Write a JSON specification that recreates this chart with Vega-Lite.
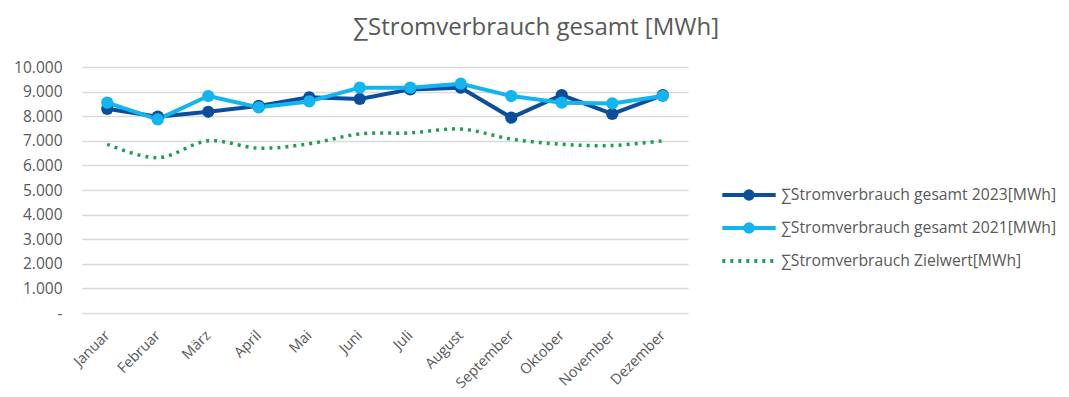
{
  "$schema": "https://vega.github.io/schema/vega-lite/v6.json",
  "width": 606,
  "height": 246,
  "autosize": {"type": "none"},
  "padding": {"left": 82, "top": 67, "right": 381, "bottom": 84},
  "background": "white",
  "title": {
    "text": "∑Stromverbrauch gesamt [MWh]",
    "anchor": "middle",
    "frame": "group",
    "dx": 151,
    "offset": 20,
    "font": "Open Sans",
    "fontSize": 24,
    "fontWeight": "normal",
    "color": "#595959"
  },
  "config": {
    "view": {"stroke": null},
    "font": "Open Sans"
  },
  "data": {
    "values": [
      {"monat": "Januar", "serie": "∑Stromverbrauch gesamt 2023[MWh]", "wert": 8300},
      {"monat": "Februar", "serie": "∑Stromverbrauch gesamt 2023[MWh]", "wert": 7980},
      {"monat": "März", "serie": "∑Stromverbrauch gesamt 2023[MWh]", "wert": 8180},
      {"monat": "April", "serie": "∑Stromverbrauch gesamt 2023[MWh]", "wert": 8420},
      {"monat": "Mai", "serie": "∑Stromverbrauch gesamt 2023[MWh]", "wert": 8770},
      {"monat": "Juni", "serie": "∑Stromverbrauch gesamt 2023[MWh]", "wert": 8700},
      {"monat": "Juli", "serie": "∑Stromverbrauch gesamt 2023[MWh]", "wert": 9090},
      {"monat": "August", "serie": "∑Stromverbrauch gesamt 2023[MWh]", "wert": 9160},
      {"monat": "September", "serie": "∑Stromverbrauch gesamt 2023[MWh]", "wert": 7940},
      {"monat": "Oktober", "serie": "∑Stromverbrauch gesamt 2023[MWh]", "wert": 8860},
      {"monat": "November", "serie": "∑Stromverbrauch gesamt 2023[MWh]", "wert": 8090},
      {"monat": "Dezember", "serie": "∑Stromverbrauch gesamt 2023[MWh]", "wert": 8860},
      {"monat": "Januar", "serie": "∑Stromverbrauch gesamt 2021[MWh]", "wert": 8550},
      {"monat": "Februar", "serie": "∑Stromverbrauch gesamt 2021[MWh]", "wert": 7870},
      {"monat": "März", "serie": "∑Stromverbrauch gesamt 2021[MWh]", "wert": 8820},
      {"monat": "April", "serie": "∑Stromverbrauch gesamt 2021[MWh]", "wert": 8360},
      {"monat": "Mai", "serie": "∑Stromverbrauch gesamt 2021[MWh]", "wert": 8600},
      {"monat": "Juni", "serie": "∑Stromverbrauch gesamt 2021[MWh]", "wert": 9160},
      {"monat": "Juli", "serie": "∑Stromverbrauch gesamt 2021[MWh]", "wert": 9160},
      {"monat": "August", "serie": "∑Stromverbrauch gesamt 2021[MWh]", "wert": 9320},
      {"monat": "September", "serie": "∑Stromverbrauch gesamt 2021[MWh]", "wert": 8820},
      {"monat": "Oktober", "serie": "∑Stromverbrauch gesamt 2021[MWh]", "wert": 8550},
      {"monat": "November", "serie": "∑Stromverbrauch gesamt 2021[MWh]", "wert": 8520},
      {"monat": "Dezember", "serie": "∑Stromverbrauch gesamt 2021[MWh]", "wert": 8820},
      {"monat": "Januar", "serie": "∑Stromverbrauch Zielwert[MWh]", "wert": 6860},
      {"monat": "Februar", "serie": "∑Stromverbrauch Zielwert[MWh]", "wert": 6310},
      {"monat": "März", "serie": "∑Stromverbrauch Zielwert[MWh]", "wert": 7000},
      {"monat": "April", "serie": "∑Stromverbrauch Zielwert[MWh]", "wert": 6700},
      {"monat": "Mai", "serie": "∑Stromverbrauch Zielwert[MWh]", "wert": 6880},
      {"monat": "Juni", "serie": "∑Stromverbrauch Zielwert[MWh]", "wert": 7280},
      {"monat": "Juli", "serie": "∑Stromverbrauch Zielwert[MWh]", "wert": 7320},
      {"monat": "August", "serie": "∑Stromverbrauch Zielwert[MWh]", "wert": 7480},
      {"monat": "September", "serie": "∑Stromverbrauch Zielwert[MWh]", "wert": 7070},
      {"monat": "Oktober", "serie": "∑Stromverbrauch Zielwert[MWh]", "wert": 6860},
      {"monat": "November", "serie": "∑Stromverbrauch Zielwert[MWh]", "wert": 6810},
      {"monat": "Dezember", "serie": "∑Stromverbrauch Zielwert[MWh]", "wert": 7000}
    ]
  },
  "encoding": {
    "x": {
      "field": "monat",
      "type": "ordinal",
      "sort": ["Januar", "Februar", "März", "April", "Mai", "Juni", "Juli", "August", "September", "Oktober", "November", "Dezember"],
      "scale": {"type": "point", "padding": 0.5},
      "axis": {
        "title": null,
        "domain": false,
        "ticks": false,
        "grid": false,
        "labelAngle": -45,
        "labelAlign": "right",
        "labelBaseline": "middle",
        "labelPadding": 20,
        "labelFont": "Open Sans",
        "labelFontSize": 14.5,
        "labelColor": "#595959"
      }
    },
    "y": {
      "field": "wert",
      "type": "quantitative",
      "scale": {"domain": [0, 10000], "nice": false},
      "axis": {
        "title": null,
        "values": [0, 1000, 2000, 3000, 4000, 5000, 6000, 7000, 8000, 9000, 10000],
        "labelExpr": "datum.value == 0 ? '-' : replace(format(datum.value, ',.0f'), ',', '.')",
        "domain": false,
        "ticks": false,
        "grid": true,
        "gridColor": "#D9D9D9",
        "gridWidth": 1.5,
        "labelPadding": 20,
        "labelFont": "Open Sans",
        "labelFontSize": 15.5,
        "labelColor": "#595959"
      }
    },
    "color": {
      "field": "serie",
      "type": "nominal",
      "scale": {
        "domain": ["∑Stromverbrauch gesamt 2023[MWh]", "∑Stromverbrauch gesamt 2021[MWh]", "∑Stromverbrauch Zielwert[MWh]"],
        "range": ["#0C4E9B", "#12B5F0", "#1E9E55"]
      },
      "sort": ["∑Stromverbrauch gesamt 2023[MWh]", "∑Stromverbrauch gesamt 2021[MWh]", "∑Stromverbrauch Zielwert[MWh]"],
      "legend": {
        "title": null,
        "orient": "none",
        "legendX": 638,
        "legendY": 118,
        "symbolSize": 2850,
        "symbolStrokeWidth": 4,
        "clipHeight": 20,
        "rowPadding": 13,
        "labelOffset": 3,
        "labelLimit": 400,
        "labelFont": "Open Sans",
        "labelFontSize": 15.7,
        "labelColor": "#595959",
        "encode": {
          "symbols": {
            "update": {
              "shape": {"signal": "indexof(datum.value, 'Zielwert') >= 0 ? 'M-1,0L1,0' : 'M-1,0L1,0M-0.14,0A0.14,0.14 0 1 1 0.14,0A0.14,0.14 0 1 1 -0.14,0Z'"},
              "strokeDash": {"signal": "indexof(datum.value, 'Zielwert') >= 0 ? [3, 5] : []"}
            }
          }
        }
      }
    }
  },
  "layer": [
    {
      "transform": [{"filter": "indexof(datum.serie, 'Zielwert') >= 0"}],
      "mark": {"type": "line", "interpolate": "catmull-rom", "strokeWidth": 3.5, "strokeDash": [3, 5]}
    },
    {
      "transform": [{"filter": "indexof(datum.serie, 'Zielwert') < 0"}],
      "mark": {"type": "line", "strokeWidth": 4, "strokeJoin": "round"}
    },
    {
      "transform": [{"filter": "indexof(datum.serie, 'Zielwert') < 0"}],
      "mark": {"type": "point", "filled": true, "size": 150, "opacity": 1}
    }
  ]
}
